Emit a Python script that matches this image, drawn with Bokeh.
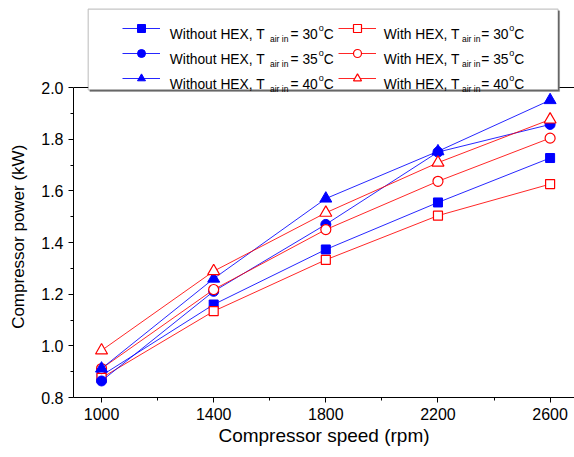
from bokeh.plotting import figure
from bokeh.models import (Legend, LegendItem, Label, BoxAnnotation, FixedTicker,
                          PrintfTickFormatter, Range1d, Span)
from bokeh.embed import file_html
from bokeh.resources import INLINE

# ---- data ----
speed = [1000, 1400, 1800, 2200, 2600]
without_30 = [0.885, 1.160, 1.373, 1.555, 1.727]
without_35 = [0.864, 1.211, 1.470, 1.750, 1.857]
without_40 = [0.912, 1.260, 1.570, 1.753, 1.951]
with_30 = [0.876, 1.134, 1.333, 1.504, 1.626]
with_35 = [0.912, 1.218, 1.450, 1.637, 1.804]
with_40 = [0.982, 1.289, 1.515, 1.709, 1.876]
temps = [30, 35, 40]
x_ticks = [1000, 1400, 1800, 2200, 2600]
x_minor = [1200, 1600, 2000, 2400]
y_ticks = [0.8, 1.0, 1.2, 1.4, 1.6, 1.8, 2.0]
y_minor = [0.9, 1.1, 1.3, 1.5, 1.7, 1.9]
y_min, y_max = 0.8, 2.0

FONT = "Liberation Sans"
BLUE = "#0000FF"
RED = "#FF0000"

W, H = 574, 457
FL, FB = 73.0, 397.0            # frame left / bottom (pixels)
px_per_unit = 310.0 / (y_max - y_min)
y_top = y_min + FB / px_per_unit  # frame reaches the top of the canvas (legend area)

# the axis label is centred on the (taller) frame; pad its end so the visible
# words sit centred on the 0.8-2.0 span as in the reference
y_label = "Compressor power (kW)" + "\u00a0" * 16

p = figure(width=W, height=H, output_backend="svg", toolbar_location=None,
           x_range=Range1d(900, 2687), y_range=Range1d(y_min, y_top),
           min_border_left=int(FL), min_border_right=0, min_border_top=0,
           min_border_bottom=int(H - FB),
           x_axis_label="Compressor speed (rpm)", y_axis_label=y_label)
p.outline_line_color = None
p.xgrid.visible = False
p.ygrid.visible = False
p.background_fill_color = "white"
p.border_fill_color = "white"

xa = p.below[0]
ya = p.left[0]
xa.ticker = FixedTicker(ticks=x_ticks, minor_ticks=x_minor)
ya.ticker = FixedTicker(ticks=y_ticks, minor_ticks=y_minor)
ya.formatter = PrintfTickFormatter(format="%.1f")
ya.bounds = (y_min, y_max)
for ax in (xa, ya):
    ax.major_tick_in = 0
    ax.major_tick_out = 5
    ax.minor_tick_in = 0
    ax.minor_tick_out = 3
    ax.axis_line_color = "black"
    ax.major_tick_line_color = "black"
    ax.minor_tick_line_color = "black"
    ax.major_label_text_font = FONT
    ax.major_label_text_font_size = "16px"
    ax.major_label_text_color = "black"
    ax.major_label_standoff = 5
    ax.axis_label_text_font = FONT
    ax.axis_label_text_font_style = "normal"
    ax.axis_label_text_color = "black"
xa.axis_label_text_font_size = "19px"
xa.axis_label_standoff = 2
ya.axis_label_text_font_size = "17px"
ya.axis_label_standoff = 10

# top border of the plotting box
p.add_layout(Span(location=y_max, dimension="width", line_color="black", line_width=1))

series = [
    ("wo30", without_30, BLUE, "square", 9, False),
    ("w30", with_30, RED, "square", 9, True),
    ("wo35", without_35, BLUE, "circle", 10, False),
    ("w35", with_35, RED, "circle", 10, True),
    ("wo40", without_40, BLUE, "triangle", 12, False),
    ("w40", with_40, RED, "triangle", 12, True),
]
rend = {}
for key, vals, color, marker, size, hollow in series:
    l = p.line(speed, vals, line_color=color, line_width=1, line_alpha=0.85)
    s = p.scatter(speed, vals, marker=marker, size=size, line_color=color,
                  line_width=1.2 if hollow else 1,
                  fill_color="white" if hollow else color)
    rend[key] = [l, s]

# legend frame (with a thin shadow on the right / bottom)
bx0, bx1, by0, by1 = 87.7, 557.5, 8.7, 89.3
sh = 1.6
shadow = BoxAnnotation(left=bx0 + sh - FL, right=bx1 + sh - FL, top=FB - by0 - sh,
                       bottom=FB - by1 - sh,
                       left_units="screen", right_units="screen", top_units="screen",
                       bottom_units="screen", fill_color="#707070", fill_alpha=1.0,
                       line_color="#707070", line_width=1)
p.add_layout(shadow)
box = BoxAnnotation(left=bx0 - FL, right=bx1 - FL, top=FB - by0, bottom=FB - by1,
                    left_units="screen", right_units="screen", top_units="screen",
                    bottom_units="screen", fill_color="white", fill_alpha=1.0,
                    line_color="#404040", line_width=1.2)
p.add_layout(box)

order = ["wo30", "wo35", "wo40", "w30", "w35", "w40"]
items = [LegendItem(label=" ", renderers=rend[k]) for k in order]
legend = Legend(items=items, ncols=2, location=(121.7 - FL, FB - 87.7),
                glyph_width=38, glyph_height=20, label_width=173, label_height=20,
                label_standoff=0, spacing=5, padding=0, margin=0,
                border_line_alpha=0, background_fill_alpha=0,
                label_text_font_size="1px")
p.add_layout(legend, "center")

cols = [
    ("Without HEX, T", 169.3, 269.5, 290.0, 318.3, 323.3),
    ("With HEX, T", 383.3, 461.5, 480.8, 508.8, 513.8),
]
for i, t in enumerate(temps):
    base = 33.7 + 25 * i
    for main, x_main, x_sub, x_eq, x_sup, x_c in cols:
        pieces = [
            (main, x_main, base, "13.8px"),
            ("air in", x_sub, base + 4.3, "8.5px"),
            ("= %d" % t, x_eq, base, "13.8px"),
            ("o", x_sup, base - 6.7, "9px"),
            ("C", x_c, base, "13.8px"),
        ]
        for txt, px, py, fs in pieces:
            p.add_layout(Label(x=px - FL, y=FB - py, x_units="screen", y_units="screen",
                               text=txt, text_font=FONT, text_font_size=fs,
                               text_color="black", text_align="left",
                               text_baseline="alphabetic"))

open("out.html", "w").write(file_html(p, INLINE))
